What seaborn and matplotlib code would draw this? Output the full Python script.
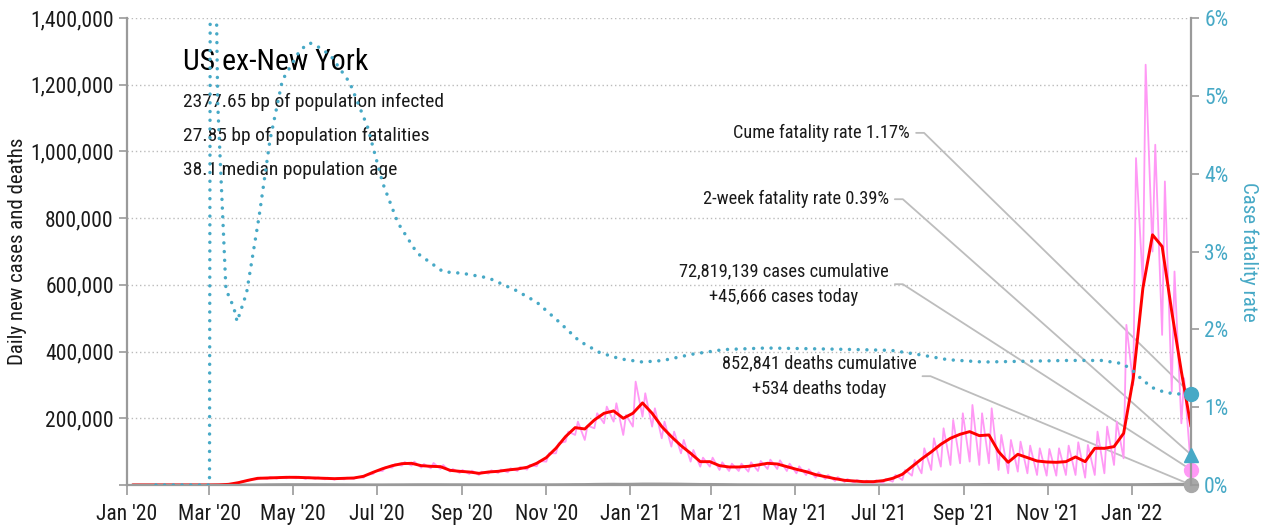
import matplotlib
matplotlib.use('Agg')
import matplotlib.pyplot as plt
import matplotlib.dates as mdates
from matplotlib.lines import Line2D
from matplotlib.ticker import FuncFormatter, MultipleLocator
import pandas as pd
import seaborn as sns

# weekly points, every Sunday from 2020-01-05 to 2022-02-13 (values in thousands)
week_start = '2020-01-05'

# 7-day average of daily new cases
cases_avg = [
    0, 0, 0, 0,  0, 0, 0, 0,  0.05, 0.4, 2, 7, 14,  20, 21, 22, 23,
    23, 22, 21, 20, 19,  20, 21, 26, 38,  49, 58, 64, 65,  58, 56, 55, 44, 41,
    39, 35, 39, 41,  45, 48, 53, 65,  82, 110, 145, 172, 168,  195, 215, 222, 200,
    # 2021
    215, 246, 215, 175, 145,  118, 95, 70, 70,  58, 54, 54, 56,  60, 65, 63, 55,
    47, 40, 31, 25, 19,  14, 12, 10, 10,  13, 20, 32, 55,  78, 99, 122, 140, 152,
    160, 148, 150, 100,  68, 92, 82, 72, 69,  68, 70, 84, 70,  110, 110, 115, 155,
    # 2022
    320, 590, 750, 715, 520,  340, 175,
]

# daily cases on the Sunday (weekly low)
cases_low = [
    0, 0, 0, 0,  0, 0, 0, 0,  0.03, 0.3, 1.5, 6, 12,  17, 18, 19, 20,
    20, 18, 18, 17, 16,  17, 18, 22, 33,  42, 52, 58, 58,  52, 50, 48, 40, 36,
    33, 30, 34, 36,  38, 42, 46, 56,  70, 95, 130, 150, 135,  170, 185, 190, 150,
    # 2021
    175, 205, 175, 140, 115,  95, 70, 55, 55,  45, 42, 42, 40,  42, 48, 48, 42,
    35, 30, 22, 18, 12,  9, 7, 6, 5,  6, 10, 15, 28,  35, 45, 55, 60, 65,
    70, 60, 65, 45,  35, 40, 35, 30, 28,  28, 30, 30, 22,  30, 35, 60, 80,
    # 2022
    300, 600, 700, 450, 280,  185, 45.666,
]

# daily cases on the Tuesday (weekly high)
cases_high = [
    0, 0, 0, 0,  0, 0, 0, 0,  0.08, 0.7, 3, 10, 17,  22, 24, 24, 25,
    25, 24, 23, 22, 21,  22, 24, 30, 42,  54, 63, 69, 70,  63, 66, 60, 48, 45,
    43, 40, 44, 46,  50, 54, 60, 72,  95, 125, 160, 190, 178,  215, 235, 245, 210,
    # 2021
    310, 275, 230, 190, 160,  135, 105, 82, 82,  68, 64, 64, 68,  72, 76, 74, 64,
    56, 47, 38, 30, 24,  18, 15, 13, 14,  18, 30, 45, 75,  110, 140, 170, 195, 215,
    240, 215, 230, 150,  135, 130, 118, 110, 108,  110, 118, 128, 120,  160, 175, 190, 480,
    # 2022
    980, 1260, 1020, 910, 640,  320,
]

# daily deaths
deaths = [
    0, 0, 0, 0,  0, 0, 0, 0,  0.001, 0.003, 0.01, 0.05, 0.2,  0.5, 0.9, 1.1, 1.3,
    1.3, 1.3, 1.2, 1.1, 0.95,  0.85, 0.7, 0.6, 0.55,  0.55, 0.7, 0.8, 1.0,
    1.1, 1.1, 1.1, 1.0, 0.95,  0.85, 0.8, 0.8, 0.75,  0.7, 0.7, 0.75, 0.8,
    0.85, 1.0, 1.2, 1.5, 1.6,  2.1, 2.4, 2.6, 2.3,
    # 2021
    2.6, 3.1, 3.1, 3.0, 2.9,  2.7, 2.3, 1.9, 1.9,  1.6, 1.3, 0.95, 0.9,  0.8, 0.7, 0.65, 0.65,
    0.62, 0.6, 0.55, 0.5, 0.45,  0.35, 0.3, 0.28, 0.26,  0.23, 0.25, 0.26, 0.3,
    0.35, 0.45, 0.6, 0.8, 1.0,  1.4, 1.6, 1.9, 1.8,  1.7, 1.6, 1.5, 1.35, 1.1,
    1.05, 1.0, 1.0, 0.95,  1.0, 1.2, 1.2, 1.2,
    # 2022
    1.2, 1.5, 1.7, 2.0, 2.2,  2.4, 0.534,
]

# cumulative case fatality rate (%)
cfr_dates = [
    '2020-01-22', '2020-03-01', '2020-03-02', '2020-03-04', '2020-03-06', '2020-03-07',
    '2020-03-10', '2020-03-13', '2020-03-16', '2020-03-20', '2020-03-21', '2020-03-23',
    '2020-03-28', '2020-04-06', '2020-04-14', '2020-04-23', '2020-05-06', '2020-05-13',
    '2020-05-20', '2020-05-28', '2020-06-11', '2020-06-24', '2020-07-05', '2020-07-16',
    '2020-07-30', '2020-08-18', '2020-09-01', '2020-09-20', '2020-10-10', '2020-10-25',
    '2020-11-10', '2020-11-25', '2020-12-10', '2020-12-25', '2021-01-10', '2021-01-25',
    '2021-02-15', '2021-03-10', '2021-04-10', '2021-05-15', '2021-06-15', '2021-07-10',
    '2021-08-01', '2021-08-20', '2021-09-15', '2021-10-15', '2021-11-15', '2021-12-10',
    '2021-12-25', '2022-01-01', '2022-01-08', '2022-01-16', '2022-01-25', '2022-02-02',
    '2022-02-13',
]
cfr_pct = [
    0, 0, 12, 14, 6.2, 4.9,
    3.7, 2.5, 2.4, 2.2, 2.1, 2.2,
    2.47, 3.44, 4.43, 5.2, 5.59, 5.68,
    5.62, 5.52, 5.17, 4.6, 3.88, 3.37,
    2.98, 2.74, 2.72, 2.66, 2.5, 2.35,
    2.1, 1.85, 1.7, 1.62, 1.58, 1.6,
    1.68, 1.74, 1.76, 1.75, 1.74, 1.73,
    1.67, 1.61, 1.58, 1.59, 1.6, 1.6,
    1.56, 1.48, 1.36, 1.25, 1.19, 1.17,
    1.17,
]

two_week_cfr = 0.39
total_cases = '72,819,139'
total_deaths = '852,841'

# ---- tables ----
weeks = pd.date_range(week_start, periods=len(cases_avg), freq='7D')
avg_df = pd.DataFrame({'date': weeks, 'cases': [v * 1000 for v in cases_avg]})
deaths_df = pd.DataFrame({'date': weeks, 'deaths': [v * 1000 for v in deaths]})
daily_df = pd.concat([
    pd.DataFrame({'date': weeks, 'cases': [v * 1000 for v in cases_low]}),
    pd.DataFrame({'date': weeks[:len(cases_high)] + pd.Timedelta(days=2),
                  'cases': [v * 1000 for v in cases_high]}),
]).sort_values('date')
cfr_df = pd.DataFrame({'date': pd.to_datetime(cfr_dates), 'cfr': cfr_pct})

last_date = weeks[-1]
today_cases = cases_low[-1] * 1000
today_deaths = deaths[-1] * 1000

# ---- style ----
sns.set_theme(style='white')
plt.rcParams['font.family'] = ['Roboto Condensed', 'Roboto', 'DejaVu Sans']

PINK = '#ff99f5'
RED = '#ff0000'
TEAL = '#47a9c6'
GREY = '#9a9a9a'
LEAD = '#bdbdbd'
TXT = '#1a1a1a'

fig = plt.figure(figsize=(12.65, 5.25), dpi=100)
fig.subplots_adjust(left=0.1004, right=0.9415, top=0.9657, bottom=0.0762)
ax = fig.add_subplot(111)
ax2 = ax.twinx()

sns.lineplot(data=deaths_df, x='date', y='deaths', ax=ax, color=GREY, lw=2, estimator=None)
sns.lineplot(data=daily_df, x='date', y='cases', ax=ax, color=PINK, lw=1.3, estimator=None)
sns.lineplot(data=avg_df, x='date', y='cases', ax=ax, color=RED, lw=2.1, estimator=None)
sns.lineplot(data=cfr_df, x='date', y='cfr', ax=ax2, color=TEAL, lw=2.5, estimator=None)
cfr_line = ax2.lines[-1]
cfr_line.set_linestyle((0, (0.01, 2.5)))
cfr_line.set_dash_capstyle('round')

# end markers
ax.plot([last_date], [today_deaths], 'o', color='#a8a8a8', ms=10, clip_on=False, zorder=6)
ax.plot([last_date], [today_cases], 'o', color=PINK, ms=10, clip_on=False, zorder=6)
ax2.plot([last_date], [two_week_cfr], '^', color=TEAL, ms=10, clip_on=False, zorder=6)
ax2.plot([last_date], [cfr_pct[-1]], 'o', color=TEAL, ms=10, clip_on=False, zorder=6)

# ---- axes ----
ax.set_xlim(pd.Timestamp('2020-01-01'), last_date)
ax.set_ylim(0, 1400000)
ax2.set_ylim(0, 6)

ax.xaxis.set_major_locator(mdates.MonthLocator(bymonth=[1, 3, 5, 7, 9, 11]))
ax.xaxis.set_major_formatter(mdates.DateFormatter("%b '%y"))
ax.yaxis.set_major_locator(MultipleLocator(200000))
ax.yaxis.set_major_formatter(FuncFormatter(lambda v, p: '' if v == 0 else f'{v:,.0f}'))
ax2.yaxis.set_major_locator(MultipleLocator(1))
ax2.yaxis.set_major_formatter(FuncFormatter(lambda v, p: f'{v:.0f}%'))

ax.set_xlabel('')
ax.set_ylabel('Daily new cases and deaths', fontsize=15, color=TXT)
ax.yaxis.set_label_coords(-0.094, 0.5)
ax2.set_ylabel('Case fatality rate', fontsize=15, color=TEAL, rotation=270, va='center')
ax2.yaxis.set_label_coords(1.054, 0.5)

ax.grid(axis='y', color='#bbbbbb', lw=1, linestyle=(0, (1, 2)))
ax.grid(axis='x', visible=False)
ax2.grid(False)

for s in ['top', 'right']:
    ax.spines[s].set_visible(False)
for s in ['top', 'left', 'bottom']:
    ax2.spines[s].set_visible(False)
for sp in [ax.spines['left'], ax.spines['bottom'], ax2.spines['right']]:
    sp.set_color(GREY)
    sp.set_linewidth(1.6)

ax.tick_params(axis='x', bottom=True, length=7, width=1.2, color=GREY, labelsize=15.5, labelcolor=TXT, pad=7)
ax.tick_params(axis='y', left=True, length=6, width=1.2, color=GREY, labelsize=15.5, labelcolor=TXT)
ax2.tick_params(axis='y', right=True, length=6, width=1.2, color=GREY, labelsize=15.5, labelcolor=TEAL)

# ---- text block ----
ax.text(0.0526, 0.906, 'US ex-New York', transform=ax.transAxes, fontsize=21.5, va='center', color='black')
info = ['2377.65 bp of population infected',
        '27.85 bp of population fatalities',
        '38.1 median population age']
for i, line in enumerate(info):
    ax.text(0.0526, 0.820 - i * 0.073, line, transform=ax.transAxes, fontsize=14, va='center', color=TXT)


def to_axes(axis, x, y):
    disp = axis.transData.transform((mdates.date2num(x), y))
    return ax.transAxes.inverted().transform(disp)


notes = [
    (f'Cume fatality rate {cfr_pct[-1]:.2f}%', 0.736, 0.754, ax2, cfr_pct[-1]),
    (f'2-week fatality rate {two_week_cfr:.2f}%', 0.716, 0.612, ax2, two_week_cfr),
    (f'{total_cases} cases cumulative\n+{today_cases:,.0f} cases today', 0.716, 0.430, ax, today_cases),
    (f'{total_deaths} deaths cumulative\n+{today_deaths:,.0f} deaths today', 0.742, 0.233, ax, today_deaths),
]
px = 1 / 1064
for label, tx, ty, axis, val in notes:
    ax.text(tx, ty, label, transform=ax.transAxes, fontsize=13.2, ha='right', va='center',
            multialignment='center', color=TXT, linespacing=1.6)
    mx, my = to_axes(axis, last_date, val)
    ax.add_line(Line2D([tx + 6 * px, tx + 14 * px, mx], [ty, ty, my], transform=ax.transAxes,
                       color=LEAD, lw=1.3, zorder=1, clip_on=False))

fig.savefig('out.png', dpi=100)
